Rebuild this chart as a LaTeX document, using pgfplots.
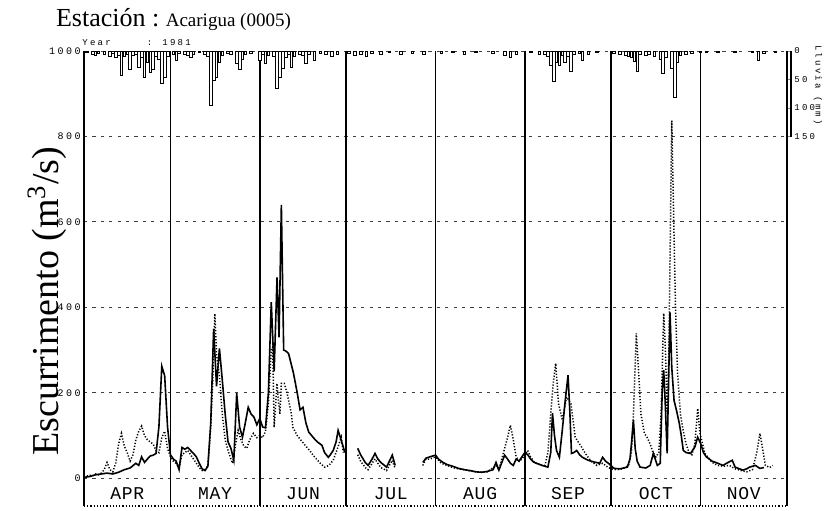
\documentclass[border=0pt]{standalone}
\usepackage{fontspec}
\setmainfont{Liberation Serif}
\newfontfamily\dotfont[LetterSpace=25]{Liberation Mono}
\newfontfamily\monthfont[LetterSpace=4]{Liberation Mono}
\usepackage{pgfplots}
\usepackage{pgfplotstable}
\pgfplotsset{compat=1.18}

% day 0 = 1 April 1981; flows in m3/s
\pgfplotstableread{
x y
0 2
2 4
4 8
6 10
8 12
10 10
12 14
14 20
16 24
18 35
19 30
20 50
21 37
22 45
23 52
24 54
25 58
26 120
27 262
28 240
29 120
30 55
31 45
32 40
33 20
34 72
35 68
36 72
37 65
38 58
39 50
40 35
41 22
42 18
43 28
44 130
45 350
46 215
47 304
48 230
49 150
50 85
51 70
52 42
53 199
54 120
55 96
56 130
57 166
58 150
59 143
60 125
61 140
62 120
63 118
64 200
65 412
66 250
67 470
67.7 330
68.5 640
69.3 300
70 298
71 292
72 265
72.7 246
74 200
75 160
76 166
77 130
78 108
79 100
80 92
81 85
82.6 77
83.5 60
84.8 49
85.5 55
86.5 65
87.5 85
88.2 112
89 95
90 73
90.5 60
nan nan
95 70
96 55
97.6 37
98.6 30
100 45
101 58
102 45
103 37
105 26
106 40
107 54
108 30
nan nan
117.6 37
118.7 47
120 50
122 54
123 45
124.6 37
126 32
128 28
130 23
132 20
134 18
136 15
138 14
140 16
142 20
143 37
144 19
146 54
147 45
148 35
149 30
150 45
151 40
152 50
153 60
154 55
155 45
156 38
157 35
159 30
161 26
162 60
162.6 152
163.3 100
164 65
165 49
166 112
167 180
168 241
168.6 160
169.2 58
170 60
171 65
172 55
173 49
175 42
177 38
179 35
180 49
181 40
182 35
184 23
186 22
188.6 26
189.5 45
190 80
190.7 136
191.3 70
192 40
193 26
195 24
196.5 30
197.6 58
199 30
200 35
200.7 206
201.2 253
201.7 182
202.4 58
203.4 388
204 260
204.8 182
205.6 160
206.6 129
207.3 100
208 65
209 60
210.5 58
212 73
213 96
214 82
215 60
216 50
218 40
220 35
221.8 30
223 35
225 42
226 26
228.7 19
230 22
231 26
233 30
234.6 23
236 25
}\observed

\pgfplotstableread{
x y
0 3
1 5
2 7
3 6
4 10
5 8
6 12
7 20
8 37
9 20
10 15
11 35
12 80
13 105
14 75
15 60
16 40
17 55
18 90
19 110
20 122
21 100
22 90
23 85
24 80
25 65
26 60
27 95
28 110
29 70
30 50
31 40
32 35
33 25
34 55
35 60
36 65
37 55
38 45
39 35
40 25
41 18
42 20
43 30
44 120
44.7 230
45.4 385
46 290
47 240
48 150
48.5 119
49 90
50 65
51 45
51.6 35
52.6 80
53.5 112
54.5 90
55.5 75
56.5 70
57.5 90
58.8 105
60 95
61 100
62 95
63 110
64 175
65 300
65.5 307
66 119
67 222
67.5 180
68 150
68.5 222
69.5 222
70.5 199
72 150
72.5 119
74 100
75.3 89
77 75
78.3 65
80 50
82 35
83.5 26
85 30
86.5 42
88 70
89.3 96
90 60
nan nan
95 55
96 40
97.6 25
98.6 20
100 35
101 45
102 35
103 25
105 18
106 30
107 42
108 22
nan nan
117.6 30
118.7 45
120 45
122 50
124 35
126 30
128 25
130 22
132 20
134 17
136 15
138 14
140 15
142 25
143 30
144 20
145 45
146 70
147 95
148 124
149 90
150 50
151 40
152 45
153 55
154 65
155 50
156 40
157 35
159 30
160 30
161 60
162 150
163 230
163.7 269
164.7 175
166 136
167.5 190
169 175
170.5 96
171.5 85
172.7 73
174 58
176 40
178 30
180 35
182 25
183 22
185 20
187 22
189 30
190 60
190.7 150
191.7 339
192.5 250
193.3 150
194.5 105
195.5 95
196.5 80
197.5 60
198.5 50
199.5 60
200.3 150
201.2 386
201.8 300
202.4 150
203 300
204 837
204.7 600
205.3 400
206 250
207 150
208 110
209 80
210 60
211 55
212 80
213 163
213.8 105
215.5 58
218 37
220 30
222 28
224 30
226 22
228 18
230 15
232 20
233.5 60
234.6 105
235.5 70
236.5 30
238 25
239 30
}\simulated

% daily rainfall, mm
\pgfplotstableread{
x y
1 3
3 5
4 8
5 4
7 6
9 10
10 4
11 12
12 7
13 42
14 10
15 6
16 33
17 8
18 5
19 28
20 12
21 46
22 20
23 37
24 33
25 9
26 15
27 56
28 47
29 10
31 6
32 16
33 4
35 5
36 8
37 12
38 6
40 3
42 5
43 10
44 95
45 51
46 46
47 20
48 8
50 4
51 6
53 21
54 33
55 14
56 6
58 4
61 16
62 5
63 21
64 8
66 10
67 65
68 46
69 30
70 12
71 6
72 28
73 10
75 5
76 8
77 21
78 6
80 16
82 4
84 5
86 10
88 6
92 4
94 8
96 5
98 10
100 4
103 6
106 3
110 5
114 4
118 6
124 4
128 3
132 5
136 3
142 4
146 8
148 12
150 5
155 3
158 5
160 6
161 10
162 25
163 54
164 20
165 25
166 8
167 20
168 10
169 35
170 6
172 4
173 16
175 5
178 3
184 4
186 6
188 8
189 10
190 12
191 18
192 35
193 6
195 8
196 5
198 10
200 15
201 40
202 12
204 30
205 81
206 20
207 8
209 5
211 4
214 3
216 2
220 3
226 2
232 3
234 16
236 4
240 2
}\rain

\begin{document}
\begin{tikzpicture}
\begin{axis}[
  name=main,
  scale only axis,
  width=351.5pt, height=227.5pt,
  xmin=0, xmax=244, ymin=-65, ymax=1000,
  axis x line*=bottom, axis y line*=left,
  x axis line style={densely dotted, line width=0.6pt},
  y axis line style={line width=1.1pt},
  xtick=\empty,
  extra x ticks={30,61,91,122,153,183,214,244},
  extra x tick labels={},
  extra x tick style={grid=major, major grid style={solid, black, line width=0.9pt}, major tick length=0pt},
  ytick={0,200,400,600,800,1000},
  yticklabels={0,200,400,600,800,1000},
  yticklabel style={font=\dotfont\fontsize{5}{5}\selectfont, inner sep=1.5pt},
  major tick length=0pt,
  ymajorgrids,
  major grid style={dash pattern=on 1.6pt off 2.6pt, line width=0.45pt, black!75},
  unbounded coords=jump,
  clip=false,
]
\addplot[black, line width=0.8pt] table {\observed};
\addplot[black, line width=0.75pt, dash pattern=on 0.6pt off 0.9pt] table {\simulated};

\node[font=\monthfont\fontsize{9}{9}\selectfont] at (axis cs:15,-35) {APR};
\node[font=\monthfont\fontsize{9}{9}\selectfont] at (axis cs:45.5,-35) {MAY};
\node[font=\monthfont\fontsize{9}{9}\selectfont] at (axis cs:76,-35) {JUN};
\node[font=\monthfont\fontsize{9}{9}\selectfont] at (axis cs:106.5,-35) {JUL};
\node[font=\monthfont\fontsize{9}{9}\selectfont] at (axis cs:137.5,-35) {AUG};
\node[font=\monthfont\fontsize{9}{9}\selectfont] at (axis cs:168,-35) {SEP};
\node[font=\monthfont\fontsize{9}{9}\selectfont] at (axis cs:198.5,-35) {OCT};
\node[font=\monthfont\fontsize{9}{9}\selectfont] at (axis cs:229,-35) {NOV};

\node[rotate=90, font=\fontsize{19}{19}\selectfont] at ([xshift=-18.5pt]axis cs:0,414) {Escurrimento (m\textsuperscript{3}/s)};
\end{axis}

\begin{axis}[
  at={(main.north west)}, anchor=north west,
  scale only axis,
  width=353.5pt, height=42.75pt,
  xmin=0, xmax=245.4, ymin=0, ymax=150,
  y dir=reverse,
  axis x line=none, axis y line*=right,
  y axis line style={line width=0.9pt},
  ytick={0,50,100,150},
  yticklabels={0,50,100,150},
  yticklabel style={font=\dotfont\fontsize{4.5}{4.5}\selectfont, inner sep=1.5pt},
  major tick length=1.5pt,
  clip=false,
]
\addplot[ybar, bar width=1.3pt, draw=black, fill=white, line width=0.35pt] table {\rain};
\end{axis}

\node[anchor=base west] at ([xshift=-17.5pt, yshift=12.5pt]main.north west)
  {\fontsize{13}{13}\selectfont Estación :\ \fontsize{9.5}{9.5}\selectfont Acarigua (0005)};
\node[anchor=base west, inner sep=0pt, font=\dotfont\fontsize{4.5}{4.5}\selectfont]
  at ([xshift=-1pt, yshift=3pt]main.north west) {Year\hspace{18pt}: 1981};
\node[rotate=-90, inner sep=0pt, font=\dotfont\fontsize{4.5}{4.5}\selectfont]
  at ([xshift=15.5pt, yshift=-17pt]main.north east) {Lluvia (mm)};

\pgfresetboundingbox
\path ([shift={(-42pt,-2pt)}]main.south west) rectangle ++(412pt,255pt);
\end{tikzpicture}
\end{document}
